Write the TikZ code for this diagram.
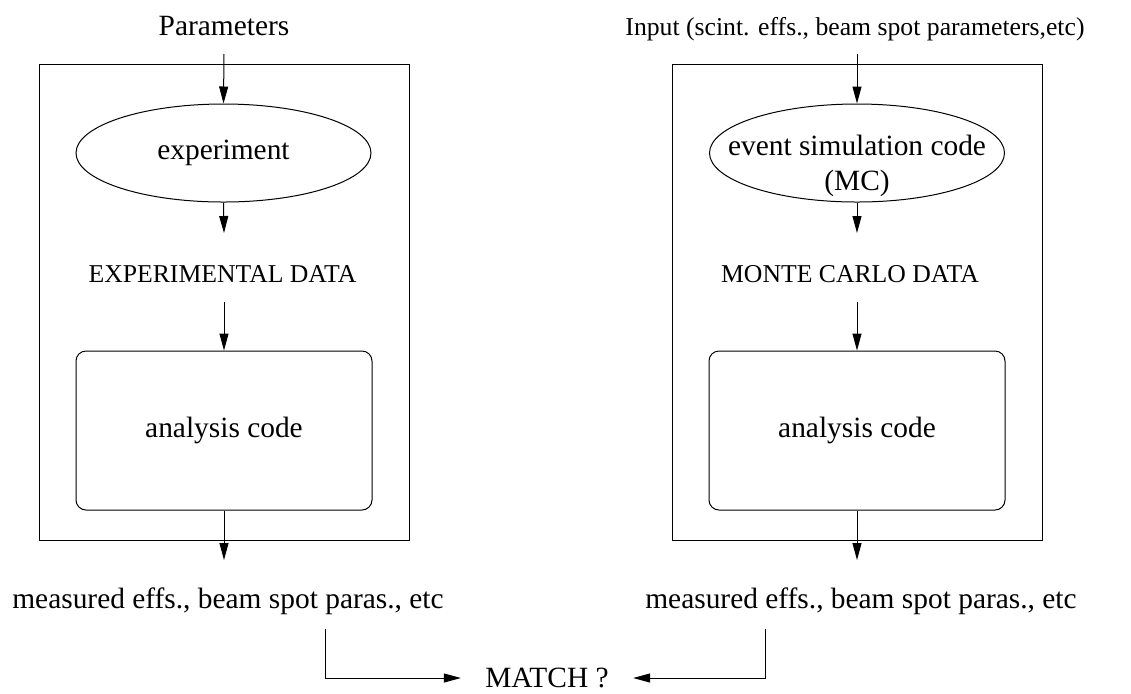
\documentclass[tikz,border=0pt]{standalone}
\usepackage{fontspec}
\setmainfont{Liberation Serif}
\usetikzlibrary{arrows.meta,shapes.geometric}
\begin{document}
\begin{tikzpicture}[x=0.5pt,y=-0.5pt,
  line width=0.5pt,
  arr/.style={-{Triangle[length=8.5pt,width=4.5pt]}},
  big/.style={font=\fontsize{14.7}{17.5}\selectfont},
  small/.style={font=\fontsize{12.85}{15}\selectfont},
  oval/.style={draw,ellipse,inner sep=0pt,minimum width=147.5pt,minimum height=49pt},
  codebox/.style={draw,rounded corners=5pt,minimum width=148pt,minimum height=79.5pt,inner sep=0pt},
  outerbox/.style={draw,minimum width=185pt,minimum height=238pt,inner sep=0pt}
]
\useasboundingbox (0,0) rectangle (1131,693);

% left column
\node[outerbox] (lframe) at (224,302) {};
\node[big,anchor=base] (params) at (224,35) {Parameters};
\coordinate (lin) at (224,54);
\node[oval,big] (exp) at (223.5,153) {experiment};
\coordinate (lmid1) at (224,233);
\node[small,anchor=base] (expdata) at (222.5,282) {EXPERIMENTAL DATA};
\coordinate (lmid2) at (224,302);
\node[codebox,big] (lana) at (224,430.5) {analysis code};
\coordinate (lout) at (224,560);
\node[big,anchor=base] (lmeas) at (228,608) {measured effs., beam spot paras., etc};
\coordinate (lm) at (325,629);

% right column
\node[outerbox] (rframe) at (857,302) {};
\node[small,anchor=base] (input) at (855,35) {Input (scint. effs., beam spot parameters,etc)};
\coordinate (rin) at (857,54);
\node[oval] (sim) at (857,153) {};
\node[big,align=center,inner sep=0pt] (simtext) at (857,166) {event simulation code\\(MC)};
\coordinate (rmid1) at (857,233);
\node[small,anchor=base] (mcdata) at (850,282) {MONTE CARLO DATA};
\coordinate (rmid2) at (857,302);
\node[codebox,big] (rana) at (857,430.5) {analysis code};
\coordinate (rout) at (857,560);
\node[big,anchor=base] (rmeas) at (861,608) {measured effs., beam spot paras., etc};
\coordinate (rm) at (765,629);

\node[big,inner xsep=12pt] (match) at (547,678) {MATCH ?};

% connectors
\draw[arr] (lin) -- (exp.north);
\draw[arr] (exp.south) -- (lmid1);
\draw[arr] (lmid2) -- (lana.north);
\draw[arr] (lana.south) -- (lout);
\draw[arr] (rin) -- (sim.north);
\draw[arr] (sim.south) -- (rmid1);
\draw[arr] (rmid2) -- (rana.north);
\draw[arr] (rana.south) -- (rout);
\draw[arr] (lm) |- (match.west);
\draw[arr] (rm) |- (match.east);
\end{tikzpicture}
\end{document}
